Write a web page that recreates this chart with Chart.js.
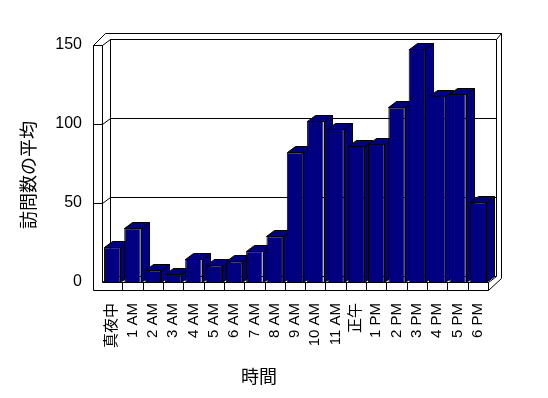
<!DOCTYPE html>
<html>
<head>
<meta charset="utf-8">
<script src="https://cdn.jsdelivr.net/npm/chart.js@4.4.1/dist/chart.umd.min.js"></script>
<style>
html, body { margin: 0; padding: 0; background: #fff; }
</style>
</head>
<body>
<canvas id="chart" width="548" height="398"></canvas>
<script>
const hours = ['真夜中', '1 AM', '2 AM', '3 AM', '4 AM', '5 AM', '6 AM', '7 AM', '8 AM', '9 AM',
    '10 AM', '11 AM', '正午', '1 PM', '2 PM', '3 PM', '4 PM', '5 PM', '6 PM'];
const avgVisits = [22, 34, 7.5, 5, 14.5, 10.5, 13, 19.5, 29, 82,
    102, 97, 86, 87.5, 110.5, 147.5, 118, 119, 50.5];
const yTicks = [0, 50, 100, 150];
const xTitle = '時間';
const yTitle = '訪問数の平均';

const LATIN = '"Liberation Sans", Arial, "Noto Sans CJK JP", sans-serif';
const JP = '"Noto Sans CJK JP", sans-serif';
const NAVY = '#000080';
const DX = 8, DY = -6;   // depth offset of the 3d box
const WALL = 9, FLOOR = 8;

const px = v => Math.round(v) + 0.5;

function poly(ctx, pts, close) {
    ctx.beginPath();
    ctx.moveTo(px(pts[0][0]), px(pts[0][1]));
    for (let i = 1; i < pts.length; i++) ctx.lineTo(px(pts[i][0]), px(pts[i][1]));
    if (close) ctx.closePath();
}

// walls, floor, gridlines and the side/top faces of the bars
const box3d = {
    id: 'box3d',
    beforeDatasetsDraw(chart) {
        const ctx = chart.ctx;
        const L = chart.chartArea.left, R = chart.chartArea.right;
        const ys = chart.scales.y, xs = chart.scales.x;
        const y0 = ys.getPixelForValue(0);
        const yTop = ys.getPixelForValue(yTicks[yTicks.length - 1]);

        ctx.save();
        ctx.strokeStyle = '#000';
        ctx.lineWidth = 1;

        // back wall
        poly(ctx, [[L + DX, yTop + DY], [R + DX, yTop + DY], [R + DX, y0 + DY], [L + DX, y0 + DY]], true);
        ctx.stroke();
        // wall thickness outline
        poly(ctx, [[L - WALL, yTop], [L + 3, yTop - 12], [R + DX + 5, yTop - 12],
            [R + DX + 5, y0 + DY + 2], [R, y0 + FLOOR]]);
        ctx.stroke();
        poly(ctx, [[R + DX, yTop + DY], [R + DX + 5, yTop - 12]]);
        ctx.stroke();
        poly(ctx, [[R, y0], [R + DX, y0 + DY]]);
        ctx.stroke();

        // left wall + floor front face
        poly(ctx, [[L - WALL, yTop], [L - WALL, y0 + FLOOR], [R, y0 + FLOOR], [R, y0], [L, y0], [L, yTop]], true);
        ctx.stroke();

        // gridlines
        yTicks.forEach(v => {
            const yy = ys.getPixelForValue(v);
            if (v === 0) {
                poly(ctx, [[L, yy], [L + DX, yy + DY]]);
            } else {
                poly(ctx, [[L - WALL, yy], [L, yy], [L + DX, yy + DY], [R + DX, yy + DY]]);
            }
            ctx.stroke();
        });

        // category cells on the floor front
        for (let k = 1; k < hours.length; k++) {
            const bx = (xs.getPixelForValue(k - 1) + xs.getPixelForValue(k)) / 2;
            poly(ctx, [[bx, y0], [bx, y0 + FLOOR]]);
            ctx.stroke();
        }

        // bar side and top faces
        ctx.fillStyle = NAVY;
        chart.getDatasetMeta(0).data.forEach(bar => {
            const p = bar.getProps(['x', 'y', 'base', 'width'], true);
            const l = p.x - p.width / 2, r = p.x + p.width / 2;
            poly(ctx, [[r, p.y], [r + DX, p.y + DY], [r + DX, p.base + DY], [r, p.base]], true);
            ctx.fill();
            ctx.stroke();
            poly(ctx, [[l, p.y], [l + DX, p.y + DY], [r + DX, p.y + DY], [r, p.y]], true);
            ctx.fill();
            ctx.stroke();
        });
        ctx.restore();
    },
    afterDraw(chart) {
        const ctx = chart.ctx;
        ctx.save();
        ctx.fillStyle = '#000';
        ctx.font = '18px ' + JP;
        ctx.textAlign = 'center';
        ctx.textBaseline = 'middle';
        ctx.fillText(xTitle, 259, 376);
        ctx.translate(28, 175);
        ctx.rotate(-Math.PI / 2);
        ctx.fillText(yTitle, 0, 0);
        ctx.restore();
    }
};

new Chart(document.getElementById('chart').getContext('2d'), {
    type: 'bar',
    data: {
        labels: hours,
        datasets: [{
            data: avgVisits,
            backgroundColor: NAVY,
            borderColor: '#000',
            borderWidth: 1,
            barPercentage: 0.81,
            categoryPercentage: 1.0
        }]
    },
    options: {
        responsive: false,
        animation: false,
        layout: { padding: { left: 0, top: 45, right: 60, bottom: 0 } },
        plugins: {
            legend: { display: false },
            tooltip: { enabled: false }
        },
        scales: {
            x: {
                grid: { display: false, drawTicks: false },
                border: { display: false },
                ticks: {
                    autoSkip: false,
                    minRotation: 90,
                    maxRotation: 90,
                    padding: 21,
                    color: '#000',
                    font: { family: LATIN, size: 15 }
                },
                afterFit(scale) { scale.height = 116; }
            },
            y: {
                min: 0,
                max: 150,
                grid: { display: false, drawTicks: false },
                border: { display: false },
                ticks: {
                    padding: 20,
                    color: '#000',
                    font: { family: LATIN, size: 16 }
                },
                afterBuildTicks(scale) { scale.ticks = yTicks.map(v => ({ value: v })); },
                afterFit(scale) { scale.width = 102; }
            }
        }
    },
    plugins: [box3d]
});
</script>
</body>
</html>
